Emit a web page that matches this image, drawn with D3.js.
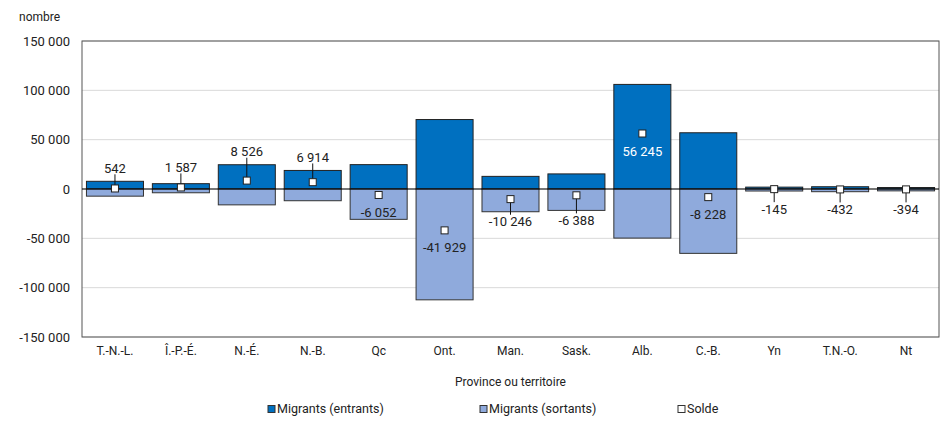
<!DOCTYPE html>
<html>
<head>
<meta charset="utf-8">
<script src="https://cdn.jsdelivr.net/npm/d3@7"></script>
<style>
  body { margin: 0; background: #fff; }
  svg text { font-family: Roboto, "Liberation Sans Narrow", sans-serif; fill: #222; }
</style>
</head>
<body>
<svg id="chart" width="945" height="421"></svg>
<script>
// provinces / territories
const provinces = ['T.-N.-L.', 'Î.-P.-É.', 'N.-É.', 'N.-B.', 'Qc', 'Ont.', 'Man.', 'Sask.', 'Alb.', 'C.-B.', 'Yn', 'T.N.-O.', 'Nt']
// migrants in, migrants out (negative), net balance
const entrants = [7800, 5400, 24600, 18800, 24700, 70400, 12800, 15300, 106000, 57000, 1900, 2300, 1500]
const sortants = [-7258, -3813, -16074, -11886, -30752, -112329, -23046, -21688, -49755, -65228, -2045, -2732, -1894]
const solde = [542, 1587, 8526, 6914, -6052, -41929, -10246, -6388, 56245, -8228, -145, -432, -394]
const yTicks = [-150000, -100000, -50000, 0, 50000, 100000, 150000]
const legendItems = ['Migrants (entrants)', 'Migrants (sortants)', 'Solde']

const colIn = '#0070c0'
const colOut = '#8faadc'

const svg = d3.select('#chart')
const mLeft = 82, mRight = 939, mTop = 41, mBottom = 337

const fr = d3.formatLocale({ decimal: ',', thousands: ' ', grouping: [3], currency: ['', ''], minus: '-' })
const fmt = fr.format(',d')

const x = d3.scaleBand().domain(provinces).range([mLeft, mRight]).paddingInner(0.135).paddingOuter(0.0675)
const y = d3.scaleLinear().domain([-150000, 150000]).range([mBottom, mTop])

// grid
svg.append('g')
  .selectAll('line')
  .data(yTicks)
  .enter()
  .append('line')
  .attr('x1', mLeft).attr('x2', mRight)
  .attr('y1', d => y(d)).attr('y2', d => y(d))
  .style('stroke', '#d9d9d9')
  .style('stroke-width', 1)

// y axis labels
const yAxis = d3.axisLeft(y).tickValues(yTicks).tickFormat(fmt).tickSize(0).tickPadding(12)
const ga = svg.append('g').attr('transform', 'translate(' + mLeft + ',0)').call(yAxis)
ga.select('.domain').remove()
ga.selectAll('text').style('font-size', '13px').style('fill', '#222').style('font-family', null)

// bars
const data = provinces.map((p, i) => ({ p, inn: entrants[i], out: sortants[i], net: solde[i] }))

svg.append('g').selectAll('rect')
  .data(data)
  .enter()
  .append('rect')
  .attr('x', d => x(d.p))
  .attr('width', x.bandwidth())
  .attr('y', d => y(d.inn))
  .attr('height', d => y(0) - y(d.inn))
  .style('fill', colIn)
  .style('stroke', '#222')
  .style('stroke-width', 1)

svg.append('g').selectAll('rect')
  .data(data)
  .enter()
  .append('rect')
  .attr('x', d => x(d.p))
  .attr('width', x.bandwidth())
  .attr('y', y(0))
  .attr('height', d => y(d.out) - y(0))
  .style('fill', colOut)
  .style('stroke', '#333')
  .style('stroke-width', 1)

// frame
svg.append('rect')
  .attr('x', mLeft).attr('y', mTop)
  .attr('width', mRight - mLeft).attr('height', mBottom - mTop)
  .style('fill', 'none')
  .style('stroke', '#555')
  .style('stroke-width', 1)

// zero line
svg.append('line')
  .attr('x1', mLeft).attr('x2', mRight)
  .attr('y1', y(0)).attr('y2', y(0))
  .style('stroke', '#000')
  .style('stroke-width', 1.2)

// label placement
data.forEach(d => {
  const cx = x(d.p) + x.bandwidth() / 2
  const my = y(d.net)
  if (d.net >= 0) {
    const room = my - y(d.inn)
    d.inside = room > 20
    d.ly = d.inside ? my + 18 : Math.min(y(d.inn) - 13, my - 20)
  } else {
    const room = y(d.out) - my
    d.inside = room > 20
    d.ly = d.inside ? my + 17 : Math.max(y(d.out) + 10, my + 20)
  }
  d.cx = cx
  d.my = my
})

// leader lines (skip when label sits close to its marker)
svg.append('g').selectAll('line')
  .data(data.filter(d => !d.inside && Math.abs(d.my - d.ly) > 18))
  .enter()
  .append('line')
  .attr('x1', d => d.cx).attr('x2', d => d.cx)
  .attr('y1', d => d.net >= 0 ? d.ly + 6 : d.ly - 7)
  .attr('y2', d => d.my)
  .style('stroke', '#111')
  .style('stroke-width', 1)

// net markers
svg.append('g').selectAll('rect')
  .data(data)
  .enter()
  .append('rect')
  .attr('x', d => d.cx - 3.5)
  .attr('y', d => d.my - 3.5)
  .attr('width', 7).attr('height', 7)
  .style('fill', '#fff')
  .style('stroke', '#222')
  .style('stroke-width', 1)

svg.append('g').selectAll('text')
  .data(data)
  .enter()
  .append('text')
  .attr('x', d => d.cx)
  .attr('y', d => d.ly)
  .attr('dy', '0.35em')
  .style('text-anchor', 'middle')
  .style('font-size', '13px')
  .style('fill', d => d.inside && d.net > 0 ? '#fff' : '#222')
  .text(d => fmt(d.net))

// category labels
svg.append('g').selectAll('text')
  .data(provinces)
  .enter()
  .append('text')
  .attr('x', d => x(d) + x.bandwidth() / 2)
  .attr('y', 351)
  .attr('dy', '0.35em')
  .style('text-anchor', 'middle')
  .style('font-size', '12px')
  .text(d => d)

svg.append('text')
  .attr('x', (mLeft + mRight) / 2)
  .attr('y', 382)
  .attr('dy', '0.35em')
  .style('text-anchor', 'middle')
  .style('font-size', '12px')
  .text('Province ou territoire')

svg.append('text')
  .attr('x', 19)
  .attr('y', 17)
  .attr('dy', '0.35em')
  .style('font-size', '12px')
  .text('nombre')

// legend
const legendX = [268, 480, 678]
const legendFill = [colIn, colOut, '#fff']
const lg = svg.append('g').selectAll('g')
  .data(legendItems)
  .enter()
  .append('g')
  .attr('transform', (d, i) => 'translate(' + legendX[i] + ',409)')
lg.append('rect')
  .attr('x', 0).attr('y', -3.5)
  .attr('width', 7).attr('height', 7)
  .style('fill', (d, i) => legendFill[i])
  .style('stroke', '#333')
  .style('stroke-width', 1)
lg.append('text')
  .attr('x', 9)
  .attr('dy', '0.35em')
  .style('font-size', '12.5px')
  .text(d => d)
</script>
</body>
</html>
